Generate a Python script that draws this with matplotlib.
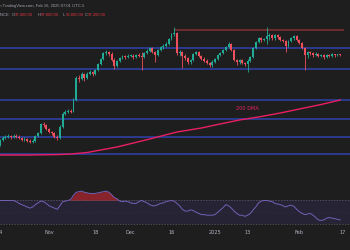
import numpy as np
import matplotlib.pyplot as plt

# daily candles, day 0 = Oct 14 2024 ... day 125 = Feb 16 2025 (price in $k)
opens = [61.2, 63.2, 64.0, 64.4, 64.8, 64.4, 64.8, 64.4, 64.0, 63.2,
         63.6, 62.8, 62.4, 62.8, 64.8, 66.0, 69.6, 69.2, 67.6, 66.4,
         66.0, 64.4, 64.0, 68.4, 73.6, 74.4, 74.8, 74.6, 79.2, 88.0,
         87.8, 89.6, 88.0, 89.8, 90.4, 89.6, 91.2, 93.6, 95.6, 98.0,
         98.4, 97.6, 95.2, 92.8, 94.8, 96.0, 96.8, 96.4, 96.8, 97.0,
         96.4, 97.2, 96.8, 96.4, 98.0, 98.8, 100.0, 98.4, 97.2, 99.2,
         100.4, 100.8, 101.6, 103.6, 105.6, 106.0, 98.0, 98.4, 96.8, 96.0,
         94.4, 95.2, 97.6, 98.4, 96.8, 95.6, 94.8, 94.0, 93.2, 94.4,
         95.6, 97.2, 98.0, 99.2, 100.4, 101.6, 99.2, 95.2, 94.4, 95.2,
         94.0, 93.6, 94.8, 96.4, 100.0, 102.4, 104.0, 103.2, 103.6, 104.8,
         105.2, 104.0, 105.2, 104.4, 103.2, 102.8, 100.8, 102.8, 104.0, 104.8,
         103.2, 102.0, 100.0, 97.2, 98.4, 98.0, 97.2, 97.6, 96.8, 97.2,
         96.4, 97.2, 96.8, 97.6, 97.2, 97.4]
closes = [63.2, 64.0, 64.4, 64.8, 64.4, 64.8, 64.4, 64.0, 63.2, 63.6,
          62.8, 62.4, 62.8, 64.8, 66.0, 69.6, 69.2, 67.6, 66.4, 66.0,
          64.4, 64.0, 68.4, 73.6, 74.4, 74.8, 74.6, 79.2, 88.0, 87.8,
          89.6, 88.0, 89.8, 90.4, 89.6, 91.2, 93.6, 95.6, 98.0, 98.4,
          97.6, 95.2, 92.8, 94.8, 96.0, 96.8, 96.4, 96.8, 97.0, 96.4,
          97.2, 96.8, 96.4, 98.0, 98.8, 100.0, 98.4, 97.2, 99.2, 100.4,
          100.8, 101.6, 103.6, 105.6, 106.0, 98.0, 98.4, 96.8, 96.0, 94.4,
          95.2, 97.6, 98.4, 96.8, 95.6, 94.8, 94.0, 93.2, 94.4, 95.6,
          97.2, 98.0, 99.2, 100.4, 101.6, 99.2, 95.2, 94.4, 95.2, 94.0,
          93.6, 94.8, 96.4, 100.0, 102.4, 104.0, 103.2, 103.6, 104.8, 105.2,
          104.0, 105.2, 104.4, 103.2, 102.8, 100.8, 102.8, 104.0, 104.8, 103.2,
          102.0, 100.0, 97.2, 98.4, 98.0, 97.2, 97.6, 96.8, 97.2, 96.4,
          97.2, 96.8, 97.6, 97.2, 97.4, 97.2]
highs = [63.6, 64.8, 65.0, 65.6, 65.2, 65.6, 65.4, 65.2, 64.4, 64.2,
         64.0, 63.4, 63.4, 65.2, 66.4, 70.0, 70.2, 69.6, 68.0, 66.8,
         66.4, 65.0, 69.2, 74.4, 75.0, 75.4, 75.6, 79.8, 88.8, 89.2,
         90.4, 90.0, 90.4, 91.0, 90.8, 91.8, 94.0, 96.0, 98.6, 99.2,
         99.0, 98.4, 96.0, 95.2, 96.6, 97.2, 97.2, 97.4, 97.6, 97.4,
         97.8, 98.0, 98.4, 98.6, 99.4, 100.6, 100.4, 99.0, 99.6, 100.8,
         101.4, 102.2, 104.0, 106.2, 108.4, 106.6, 99.2, 99.0, 97.6, 96.6,
         95.8, 98.0, 99.0, 98.8, 97.2, 96.2, 95.4, 94.6, 95.0, 96.0,
         97.6, 98.6, 99.6, 101.0, 102.2, 102.0, 99.8, 95.8, 95.8, 95.6,
         94.6, 95.4, 96.8, 100.4, 102.8, 104.6, 104.4, 104.2, 108.4, 106.0,
         105.8, 105.6, 105.6, 104.8, 103.8, 103.2, 103.2, 104.4, 105.2, 105.2,
         103.6, 102.4, 100.4, 98.8, 99.0, 98.6, 98.2, 98.0, 97.8, 97.6,
         97.6, 97.6, 98.0, 97.8, 97.8, 97.8]
lows = [60.8, 62.8, 63.6, 64.0, 63.6, 64.0, 63.8, 63.4, 62.6, 62.8,
        62.2, 61.8, 62.0, 62.4, 64.4, 65.6, 68.4, 67.2, 65.8, 65.2,
        64.0, 63.2, 63.6, 68.0, 73.2, 73.8, 74.0, 74.4, 78.8, 86.4,
        87.2, 86.8, 87.6, 89.2, 88.8, 89.2, 90.8, 93.2, 95.2, 97.2,
        97.0, 94.8, 91.8, 92.4, 94.4, 95.6, 95.8, 96.0, 96.2, 95.8,
        96.0, 96.2, 91.2, 96.0, 97.6, 98.4, 98.0, 94.4, 96.8, 98.8,
        99.8, 100.4, 101.2, 103.2, 104.8, 97.2, 96.8, 92.0, 95.2, 93.8,
        93.6, 94.8, 97.2, 96.2, 95.0, 94.2, 93.4, 92.4, 92.6, 94.0,
        95.2, 96.8, 97.6, 98.8, 100.0, 98.8, 94.8, 93.2, 93.8, 93.4,
        92.8, 90.4, 94.4, 96.0, 99.6, 102.0, 102.6, 102.8, 101.6, 103.2,
        103.2, 103.4, 103.6, 102.8, 102.2, 98.4, 100.4, 102.4, 103.4, 102.8,
        101.4, 99.4, 91.2, 96.0, 97.2, 96.6, 96.8, 96.2, 96.4, 95.8,
        96.0, 96.2, 96.4, 96.6, 96.8, 96.8]

# 200 day average, read at a few days
ema_days = [0, 11, 22, 26, 32, 37, 43, 49, 55, 65, 74, 80, 88, 96, 103, 110, 118, 125]
ema_vals = [57.2, 57.2, 57.4, 57.6, 58.2, 59.2, 60.4, 62.0, 63.6, 66.4, 68.0,
            69.4, 71.2, 72.6, 74.0, 75.6, 77.4, 79.2]

rsi = [70, 70, 70, 70, 70, 70, 68, 65, 63, 61,
       59, 57, 59, 63, 66, 69, 68, 65, 61, 59,
       57, 55, 61, 68, 69, 70, 72, 79, 84, 85,
       86, 84, 83, 82, 82, 82, 83, 84, 85, 86,
       84, 80, 75, 73, 69, 68, 69, 68, 66, 65,
       65, 68, 70, 68, 66, 63, 61, 61, 63, 65,
       66, 68, 69, 70, 69, 65, 61, 55, 52, 52,
       54, 53, 50, 48, 46, 46, 45, 45, 45, 46,
       50, 54, 58, 63, 61, 57, 52, 48, 45, 45,
       43, 45, 48, 54, 59, 66, 69, 70, 70, 69,
       68, 65, 64, 63, 61, 59, 61, 62, 60, 55,
       51, 48, 46, 47, 48, 45, 41, 37, 36, 37,
       40, 41, 40, 39, 38, 37]

blue_levels = [100.0, 91.6, 79.2, 71.6, 64.4, 57.6]
red_level = 107.4

tick_days = [0, 18, 35, 48, 63, 79, 91, 110, 126]
tick_labels = ["14", "Nov", "18", "Dec", "16", "2025", "13", "Feb", "17"]

BG = "#1e1e1f"
UP = "#22ab94"
DOWN = "#f0505e"
TXT = "#a0a3ab"

days = np.arange(len(closes))
o = np.array(opens)
c = np.array(closes)
cols = np.where(c >= o, UP, DOWN)

fig = plt.figure(figsize=(3.5, 2.5), dpi=100, facecolor=BG)
ax = fig.add_axes([0, 1 - 172 / 250, 1, 172 / 250], facecolor=BG)
rx = fig.add_axes([0, 1 - 226 / 250, 1, 54 / 250], facecolor=BG, sharex=ax)

# support / resistance lines
for lvl in blue_levels:
    ax.axhline(lvl, color="#2d3d96", lw=1.3, zorder=1)
ax.hlines(red_level, 63.8, 126.5, color="#7a2f31", lw=1.2, zorder=1)

# 200 DMA
ax.plot(ema_days, ema_vals, color="#e91e63", lw=1.0, zorder=2, solid_joinstyle="round")
ax.text(91, 76.0, "200 DMA", color="#e91e63", fontsize=3.6, ha="center", va="center")

# candles
ax.vlines(days, lows, highs, colors=cols, lw=0.6, zorder=3)
ax.bar(days, np.maximum(np.abs(c - o), 0.3), bottom=np.minimum(o, c), width=0.7,
       color=cols, linewidth=0, zorder=4)

ax.set_xlim(0.44, 128.6)
ax.set_ylim(50.4, 119.2)

# RSI pane
r = np.array(rsi, dtype=float)
rx.axhspan(30, 70, color="#262335", lw=0, zorder=0)
rx.axhline(70, color="#5f5d6c", lw=0.5, ls=(0, (2, 2)))
rx.axhline(50, color="#3b3948", lw=0.4, ls=(0, (1, 2)))
rx.axhline(30, color="#5f5d6c", lw=0.5, ls=(0, (2, 2)))
rx.fill_between(days, 70, r, where=r > 70, interpolate=True, color="#a3242f", alpha=0.8, lw=0)
rx.plot(days, r, color="#7460b5", lw=0.7)
rx.set_ylim(26.6, 118.5)

for a in (ax, rx):
    for s in a.spines.values():
        s.set_visible(False)
    a.set_yticks([])
ax.tick_params(axis="x", bottom=False, labelbottom=False)
rx.set_xticks(tick_days, tick_labels)
rx.tick_params(axis="x", length=0, pad=3.2, labelsize=3.6, labelcolor="#b2b5be")

# header text
hfont = dict(fontsize=3.0, va="center", family="Liberation Sans")
fig.text(-3 / 350, 1 - 6 / 250, "on TradingView.com, Feb 16, 2025 07:01 UTC-5",
         color=TXT, ha="left", **hfont)
fig.text(9 / 350, 1 - 15 / 250, "BINANCE", color=TXT, ha="right", **hfont)
for lab, val, xp in [("O", "97,400.00", 12), ("H", "97,800.00", 38),
                     ("L", "96,800.00", 63), ("C", "97,200.00", 85)]:
    fig.text(xp / 350, 1 - 15 / 250, lab, color=TXT, ha="left", **hfont)
    fig.text((xp + 2.5) / 350, 1 - 15 / 250, val, color="#d9343f", ha="left", **hfont)

fig.savefig("out.png", dpi=100, facecolor=BG)
